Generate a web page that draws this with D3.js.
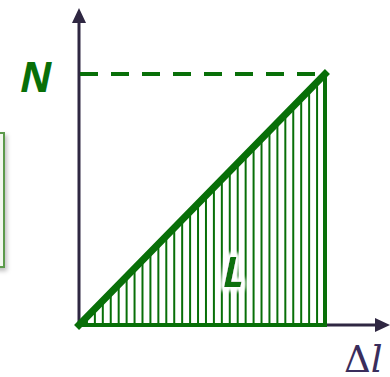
<!DOCTYPE html>
<html>
<head>
<meta charset="utf-8">
<script src="https://cdn.jsdelivr.net/npm/d3@7"></script>
<style>
  html, body { margin: 0; padding: 0; background: #fff; }
  svg { display: block; }
</style>
</head>
<body>
<div id="chart"></div>
<script>
// Work diagram: force N vs extension Δl, area L under the line
const width = 390;
const height = 377;

const extension = [0, 1];      // Δl (relative)
const force = [0, 1];          // N (relative)
const hatchStep = 1 / 31;      // spacing of the shading lines
const labels = { force: "N", area: "L", ext: "l" };

const green = "#086f08";
const axisColor = "#2f2742";

const svg = d3.select("#chart")
    .append("svg")
    .attr("width", width)
    .attr("height", height);

// Scales
const x = d3.scaleLinear().domain([0, 1]).range([79, 325]);
const y = d3.scaleLinear().domain([0, 1]).range([325, 74]);

// Side box (partly cut off at left)
const defs = svg.append("defs");
const sh = defs.append("filter").attr("id", "shadow")
    .attr("x", "-20%").attr("y", "-20%").attr("width", "160%").attr("height", "160%");
sh.append("feDropShadow").attr("dx", 2).attr("dy", 3).attr("stdDeviation", 2)
    .attr("flood-color", "#000").attr("flood-opacity", 0.25);

svg.append("rect")
    .attr("x", -20).attr("y", 133)
    .attr("width", 24).attr("height", 134)
    .attr("fill", "#f3f8ef")
    .attr("stroke", "#5c9a4c")
    .attr("stroke-width", 2)
    .attr("filter", "url(#shadow)");

// Hatch lines under the line
const hatch = d3.range(hatchStep, 1, hatchStep);
svg.selectAll(".hatch")
    .data(hatch)
    .join("line")
    .attr("class", "hatch")
    .attr("x1", d => x(d))
    .attr("x2", d => x(d))
    .attr("y1", y(0))
    .attr("y2", d => y(d))
    .attr("stroke", green)
    .attr("stroke-width", 2);

// Halo for L label
const glow = defs.append("filter").attr("id", "glow")
    .attr("x", "-50%").attr("y", "-50%").attr("width", "200%").attr("height", "200%");
glow.append("feMorphology").attr("in", "SourceAlpha").attr("operator", "dilate").attr("radius", 3).attr("result", "d");
glow.append("feGaussianBlur").attr("in", "d").attr("stdDeviation", 2).attr("result", "b");
glow.append("feFlood").attr("flood-color", "#fff");
glow.append("feComposite").attr("in2", "b").attr("operator", "in").attr("result", "w");
const m = glow.append("feMerge");
m.append("feMergeNode").attr("in", "w");
m.append("feMergeNode").attr("in", "w");
m.append("feMergeNode").attr("in", "SourceGraphic");

// Axes
const arrow = (tx, ty, dir) => {
    const s = 7, l = 15;
    if (dir === "up") return `M${tx},${ty} L${tx - s},${ty + l} L${tx + s},${ty + l} Z`;
    return `M${tx},${ty} L${tx - l},${ty - s} L${tx - l},${ty + s} Z`;
};
svg.append("line")
    .attr("x1", x(0)).attr("x2", x(0))
    .attr("y1", y(0) + 1).attr("y2", 20)
    .attr("stroke", axisColor).attr("stroke-width", 3);
svg.append("path").attr("d", arrow(x(0), 8, "up")).attr("fill", axisColor);
svg.append("line")
    .attr("x1", x(0)).attr("x2", 378)
    .attr("y1", y(0)).attr("y2", y(0))
    .attr("stroke", axisColor).attr("stroke-width", 3);
svg.append("path").attr("d", arrow(390, y(0), "right")).attr("fill", axisColor);

// Dashed level of N
svg.append("line")
    .attr("x1", x(0) + 1).attr("x2", x(1))
    .attr("y1", y(force[1])).attr("y2", y(force[1]))
    .attr("stroke", green).attr("stroke-width", 4)
    .attr("stroke-dasharray", "18,13");

// Triangle outline: bottom and right side
svg.append("path")
    .attr("d", d3.line()([[x(0), y(0)], [x(1), y(0)], [x(1), y(1)]]))
    .attr("fill", "none")
    .attr("stroke", green).attr("stroke-width", 4);

// Force line
svg.append("path")
    .datum(extension.map((e, i) => [e, force[i]]))
    .attr("d", d3.line().x(d => x(d[0])).y(d => y(d[1])))
    .attr("fill", "none")
    .attr("stroke", green)
    .attr("stroke-width", 7)
    .attr("stroke-linecap", "square");

// Labels
svg.append("text")
    .attr("x", 20).attr("y", 92)
    .attr("fill", green)
    .style("font-family", "'Open Sans', 'Liberation Sans', sans-serif")
    .style("font-weight", "bold")
    .style("font-style", "italic")
    .style("font-size", "42px")
    .text(labels.force);

svg.append("text")
    .attr("x", 223).attr("y", 287)
    .attr("fill", green)
    .attr("filter", "url(#glow)")
    .style("font-family", "'Open Sans', 'Liberation Sans', sans-serif")
    .style("font-weight", "bold")
    .style("font-style", "italic")
    .style("font-size", "41px")
    .text(labels.area);

const ext = svg.append("text")
    .attr("x", 344).attr("y", 372)
    .attr("fill", "#3a2d5c")
    .style("font-family", "'DejaVu Serif', 'Liberation Serif', serif")
    .style("font-size", "37px");
ext.append("tspan").text("Δ");
ext.append("tspan").style("font-style", "italic").text(labels.ext);
</script>
</body>
</html>
